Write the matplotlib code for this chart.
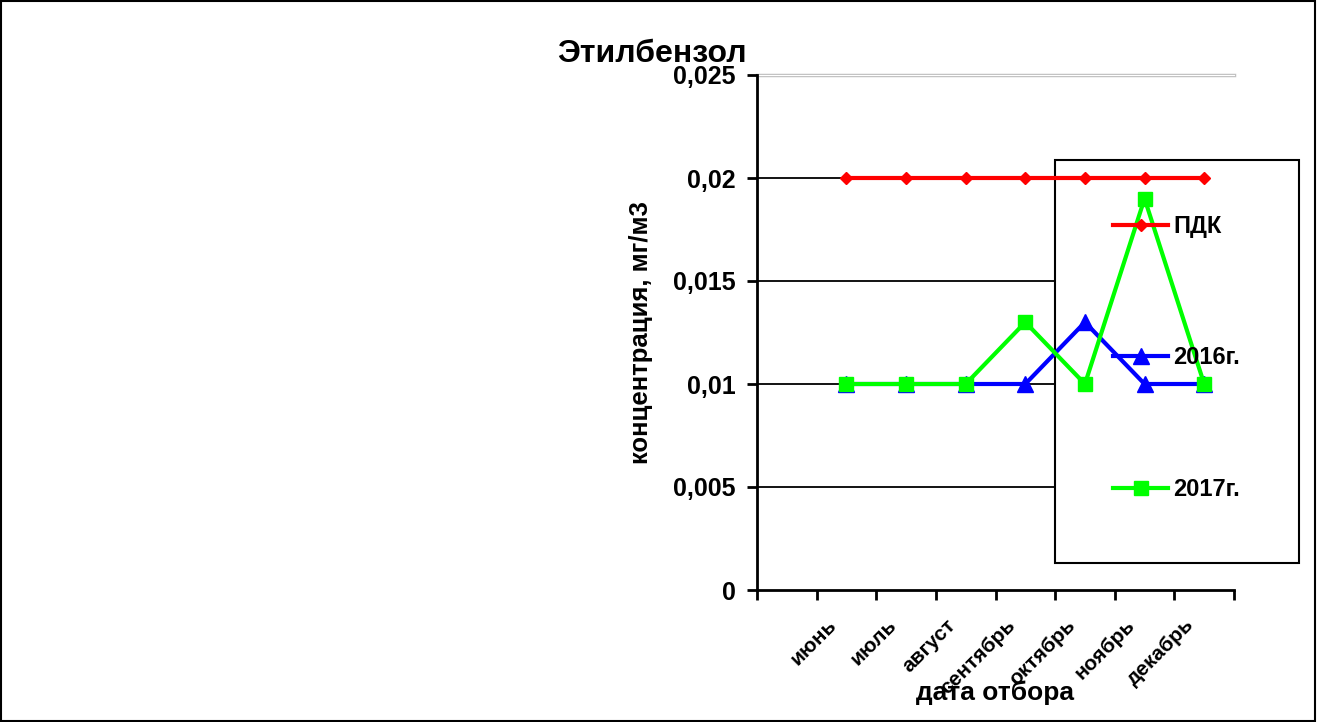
import numpy as np
import matplotlib.pyplot as plt
import matplotlib.transforms as mtransforms
from matplotlib.patches import Rectangle

plt.rcParams['font.family'] = ['Liberation Sans', 'DejaVu Sans']
plt.rcParams['font.weight'] = 'bold'

months = ["июнь", "июль", "август", "сентябрь", "октябрь", "ноябрь", "декабрь"]
pdk = [0.02, 0.02, 0.02, 0.02, 0.02, 0.02, 0.02]
y2016 = [0.01, 0.01, 0.01, 0.01, 0.013, 0.01, 0.01]
y2017 = [0.01, 0.01, 0.01, 0.013, 0.01, 0.019, 0.01]
yticks = [0, 0.005, 0.01, 0.015, 0.02, 0.025]
ylabels = ["0", "0,005", "0,01", "0,015", "0,02", "0,025"]

W, H = 1318, 722
fig = plt.figure(figsize=(W / 100, H / 100), dpi=100)
ax = fig.add_axes([757 / W, 1 - 590 / H, (1234 - 757) / W, (590 - 75) / H])

x = np.arange(len(months)) + 1.5

ax.plot(x, pdk, color="#ff0000", lw=3, marker="D", ms=6, label="ПДК", zorder=4)
ax.plot(x, y2016, color="#0000ff", lw=3, marker="^", ms=11, label="2016г.", zorder=4)
ax.plot(x, y2017, color="#00ff00", lw=3, marker="s", ms=10, label="2017г.", zorder=5)

ax.set_xlim(0, 8)
ax.set_ylim(0, 0.025)

# gridlines
for v in yticks[1:-1]:
    ax.axhline(v, color="black", lw=1.3, zorder=1)
ax.axhline(0.025, color="#c0c0c0", lw=2.5, zorder=1, clip_on=False)
ax.axhline(0.025, color="white", lw=0.8, zorder=1, clip_on=False)

# legend box sits above gridlines but below the data lines
box = Rectangle((1055 / W, 1 - 563 / H), 244 / W, 403 / H, transform=fig.transFigure,
                facecolor="white", edgecolor="black", lw=1.5, zorder=2, clip_on=False)
ax.add_patch(box)

leg = ax.legend(loc="center left", bbox_to_anchor=(1113 / W, 1 - 358 / H),
                bbox_transform=fig.transFigure, frameon=False, borderpad=0,
                borderaxespad=0, handlelength=2.35, handletextpad=0.2,
                labelspacing=4.6, prop={"size": 17, "weight": "bold"})
leg.set_zorder(6)

for s in ["top", "right"]:
    ax.spines[s].set_visible(False)
for s in ["left", "bottom"]:
    ax.spines[s].set_linewidth(2)
    ax.spines[s].set_zorder(6)

ax.set_yticks(yticks)
ax.set_yticklabels(ylabels, fontsize=18, fontweight="bold")
ax.set_xticks(np.arange(0, 9))
ax.set_xticklabels([])
ax.tick_params(axis="both", which="major", length=7, width=2, direction="out")
ax.tick_params(axis="y", pad=8.5)

# month labels, rotated like Excel, sitting just below each point
off = mtransforms.ScaledTranslation(-13 / 100, -32 / 100, fig.dpi_scale_trans)
tr = ax.get_xaxis_transform() + off
for xi, m in zip(x, months):
    ax.text(xi, 0, m, transform=tr, rotation=45, ha="right", va="center",
            rotation_mode="anchor", fontsize=15, fontweight="bold", clip_on=False)

ax.set_ylabel("концентрация, мг/м3", fontsize=18.5, fontweight="bold")
ax.yaxis.set_label_coords((653 - 757) / (1234 - 757), 0.5)
fig.text(995 / W, 1 - 693 / H, "дата отбора", fontsize=19, fontweight="bold",
         ha="center", va="center")
fig.text(557 / W, 1 - 62.5 / H, "Этилбензол", fontsize=23, fontweight="bold",
         ha="left", va="baseline")

border = Rectangle((0.001, 0.002), 0.997, 0.996, transform=fig.transFigure,
                   facecolor="none", edgecolor="black", lw=1.5)
fig.patches.append(border)

fig.savefig("out.png", dpi=100)
plt.close(fig)
